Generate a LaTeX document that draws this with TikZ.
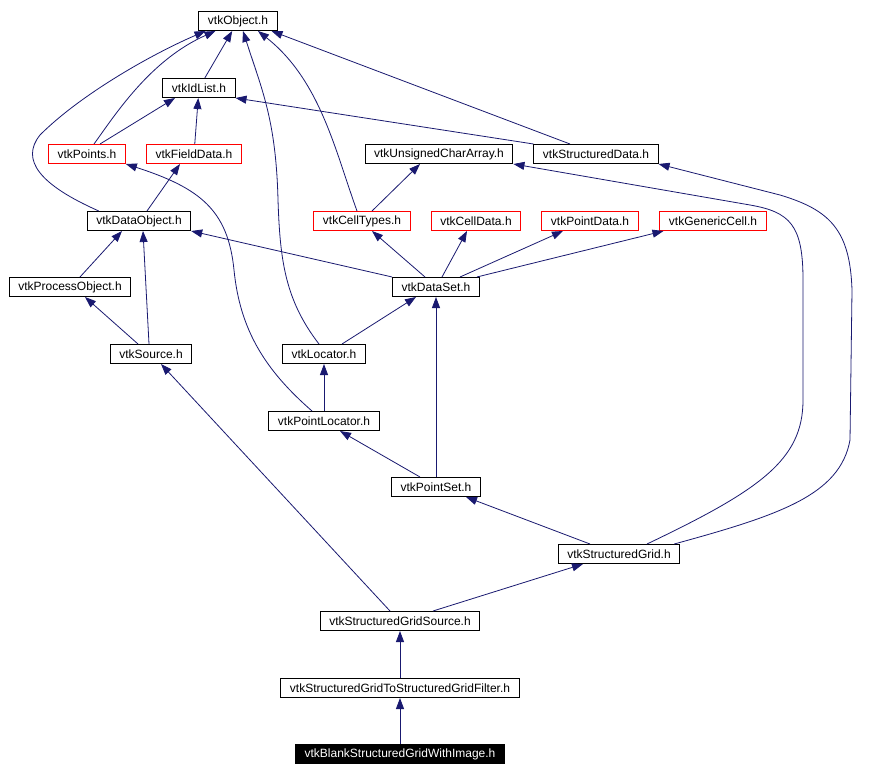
\documentclass[tikz,border=0pt]{standalone}
\usepackage{fontspec}
\setmainfont{Liberation Sans}
\usetikzlibrary{arrows.meta,positioning,calc}
\definecolor{inclblue}{RGB}{25,25,112}
\definecolor{missred}{RGB}{255,0,0}
\tikzset{
  hdrbox/.style={
    draw=black,rectangle,line width=1pt,inner xsep=9pt,inner ysep=0pt,
    minimum height=19pt,fill=white,font=\fontsize{12}{13}\selectfont
  },
  redbox/.style={hdrbox,draw=missred},
  mainbox/.style={hdrbox,fill=black,text=white},
  inclarrow/.style={-{Triangle[length=11pt,width=8pt]},line width=0.8pt,color=inclblue}
}
\begin{document}
\begin{tikzpicture}[x=1pt,y=-1pt]
  \useasboundingbox[fill=white] (0,0) rectangle (869,776);
  % header nodes
  \node[hdrbox] (obj) at (238,21) {vtkObject.h};
  \node[hdrbox] (idl) at (199,88) {vtkIdList.h};
  \node[redbox] (pts) at (87,154) {vtkPoints.h};
  \node[redbox] (fdata) at (194,154) {vtkFieldData.h};
  \node[hdrbox] (uchar) at (439,154) {vtkUnsignedCharArray.h};
  \node[hdrbox] (sdata) at (596,154) {vtkStructuredData.h};
  \node[hdrbox] (dobj) at (139,221) {vtkDataObject.h};
  \node[redbox] (ctypes) at (362,221) {vtkCellTypes.h};
  \node[redbox] (cdata) at (476,221) {vtkCellData.h};
  \node[redbox] (pdata) at (590,221) {vtkPointData.h};
  \node[redbox] (gcell) at (713,221) {vtkGenericCell.h};
  \node[hdrbox] (pobj) at (70,287) {vtkProcessObject.h};
  \node[hdrbox] (dset) at (436,287) {vtkDataSet.h};
  \node[hdrbox] (src) at (151,354) {vtkSource.h};
  \node[hdrbox] (loc) at (324,354) {vtkLocator.h};
  \node[hdrbox] (ploc) at (324,421) {vtkPointLocator.h};
  \node[hdrbox] (pset) at (436,487) {vtkPointSet.h};
  \node[hdrbox] (sgrid) at (619,554) {vtkStructuredGrid.h};
  \node[hdrbox] (sgsrc) at (400,621) {vtkStructuredGridSource.h};
  \node[hdrbox] (filt) at (400,688) {vtkStructuredGridToStructuredGridFilter.h};
  \node[mainbox] (blank) at (400,754) {vtkBlankStructuredGridWithImage.h};
  % include edges
  \draw[inclarrow] (idl) -- (obj);
  \draw[inclarrow] ([xshift=7pt]pts.north) .. controls (115,115) and (150,60) .. ([xshift=17pt]obj.south west);
  \draw[inclarrow] ([xshift=13pt]pts.north) -- ([xshift=-24pt]idl.south);
  \draw[inclarrow] (fdata) -- (idl);
  \draw[inclarrow] ([xshift=12pt]dobj.north west) .. controls (40,185) and (20,160) .. (40,135)
    .. controls (80,95) and (150,55) .. ([xshift=7pt]obj.south west);
  \draw[inclarrow] ([xshift=8pt]dobj.north) -- ([xshift=-14pt]fdata.south);
  \draw[inclarrow] ([xshift=-26pt]sdata.north) -- ([xshift=-6pt]obj.south east);
  \draw[inclarrow] (sdata.north west) -- (idl.south east);
  \draw[inclarrow] ([xshift=-5pt]ctypes.north) .. controls (335,150) and (320,80) .. ([xshift=20pt]obj.south);
  \draw[inclarrow] ([xshift=10pt]ctypes.north) -- ([xshift=-19pt]uchar.south);
  \draw[inclarrow] ([xshift=-5pt]loc.north) .. controls (285,300) and (280,260) .. (278,200)
    .. controls (276,120) and (262,90) .. ([xshift=5pt]obj.south);
  \draw[inclarrow] ([xshift=10pt]pobj.north) -- ([xshift=-17pt]dobj.south);
  \draw[inclarrow] ([xshift=-2pt]src.north) -- ([xshift=4pt]dobj.south);
  \draw[inclarrow] ([xshift=-13pt]src.north) -- ([xshift=15pt]pobj.south);
  \draw[inclarrow] (dset.north west) -- (dobj.south east);
  \draw[inclarrow] ([xshift=-11pt]dset.north) -- ([xshift=10pt]ctypes.south);
  \draw[inclarrow] ([xshift=6pt]dset.north) -- ([xshift=-9pt]cdata.south);
  \draw[inclarrow] ([xshift=24pt]dset.north) -- ([xshift=-27pt]pdata.south);
  \draw[inclarrow] ([xshift=-3pt]dset.north east) -- ([xshift=4pt]gcell.south west);
  \draw[inclarrow] ([xshift=18pt]loc.north) -- ([xshift=-20pt]dset.south);
  \draw[inclarrow] (ploc) -- (loc);
  \draw[inclarrow] ([xshift=-12pt]ploc.north) .. controls (265,370) and (240,330) .. (234,270)
    .. controls (228,210) and (200,188) .. (pts.south east);
  \draw[inclarrow] ([xshift=-16pt]pset.north) -- ([xshift=16pt]ploc.south);
  \draw[inclarrow] (pset) -- (dset);
  \draw[inclarrow] ([xshift=-29pt]sgrid.north) -- ([xshift=30pt]pset.south);
  \draw[inclarrow] ([xshift=28pt]sgrid.north) .. controls (760,490) and (803,460) .. (803,400)
    -- (803,280) .. controls (803,225) and (790,212) .. (750,205) -- (uchar.south east);
  \draw[inclarrow] ([xshift=-6pt]sgrid.north east) .. controls (780,515) and (840,495) .. (850,440)
    -- (852,290) .. controls (850,230) and (830,210) .. (780,195) -- (sdata.south east);
  \draw[inclarrow] ([xshift=-10pt]sgsrc.north) -- ([xshift=10pt]src.south);
  \draw[inclarrow] ([xshift=33pt]sgsrc.north) -- ([xshift=-36pt]sgrid.south);
  \draw[inclarrow] (filt) -- (sgsrc);
  \draw[inclarrow] (blank) -- (filt);
\end{tikzpicture}
\end{document}
